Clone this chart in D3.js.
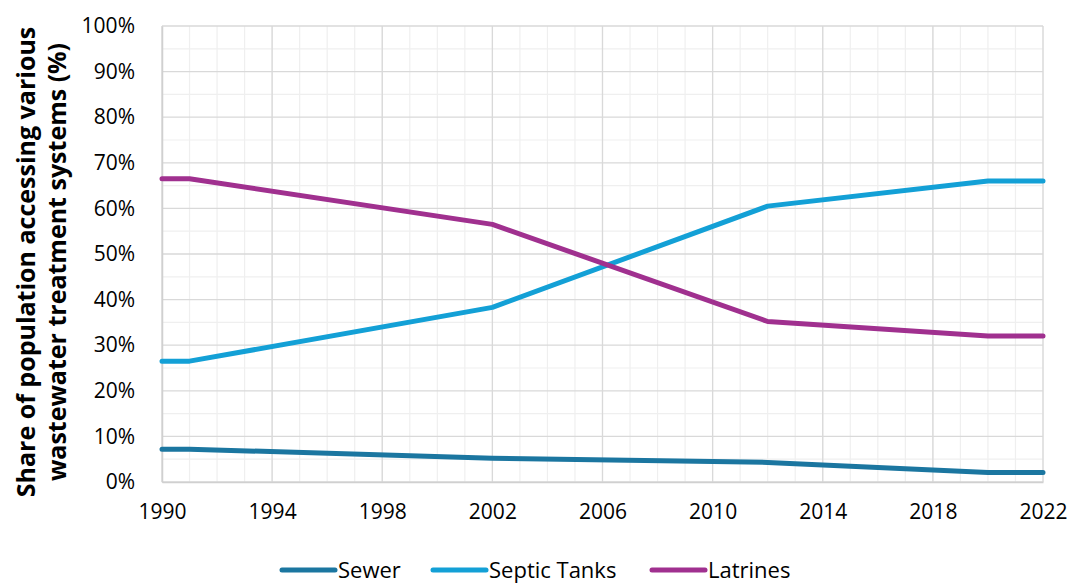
<!DOCTYPE html>
<html>
<head>
<meta charset="utf-8">
<script src="https://cdn.jsdelivr.net/npm/d3@7"></script>
<style>
  body { margin: 0; background: #fff; }
  text { font-family: "Open Sans", "Noto Sans", sans-serif; fill: #000; }
</style>
</head>
<body>
<svg id="chart" width="1071" height="583"></svg>
<script>
// Share of population by wastewater treatment system, 1990–2022
const years = [1990, 1991, 2002, 2012, 2020, 2022];
const sewer = [7.2, 7.2, 5.2, 4.3, 2.1, 2.1];
const septicTanks = [26.5, 26.5, 38.3, 60.5, 66.0, 66.0];
const latrines = [66.5, 66.5, 56.5, 35.2, 32.0, 32.0];

const seriesNames = ["Sewer", "Septic Tanks", "Latrines"];
const seriesColors = ["#1b76a0", "#13a0d6", "#a0308f"];
const xTicks = [1990, 1994, 1998, 2002, 2006, 2010, 2014, 2018, 2022];
const yTicks = [0, 10, 20, 30, 40, 50, 60, 70, 80, 90, 100];
const yTitleLines = ["Share of population accessing various", "wastewater treatment systems (%)"];

const svg = d3.select("#chart");
const margin = { left: 162, right: 28, top: 26, bottom: 101 };
const W = 1071, H = 583;

const x = d3.scaleLinear().domain([1990, 2022]).range([margin.left, W - margin.right]);
const y = d3.scaleLinear().domain([0, 100]).range([H - margin.bottom, margin.top]);

const grid = svg.append("g");
// minor grid: every year, every 5%
grid.selectAll("line.vminor").data(d3.range(1990, 2023))
  .join("line")
  .attr("x1", d => x(d)).attr("x2", d => x(d))
  .attr("y1", y(0)).attr("y2", y(100))
  .attr("stroke", "#efefef").attr("stroke-width", 1.2);
grid.selectAll("line.hminor").data(d3.range(5, 100, 10))
  .join("line")
  .attr("x1", x(1990)).attr("x2", x(2022))
  .attr("y1", d => y(d)).attr("y2", d => y(d))
  .attr("stroke", "#efefef").attr("stroke-width", 1.2);
// major grid
grid.selectAll("line.vmajor").data(xTicks)
  .join("line")
  .attr("x1", d => x(d)).attr("x2", d => x(d))
  .attr("y1", y(0)).attr("y2", y(100))
  .attr("stroke", "#d9d9d9").attr("stroke-width", 1.3);
grid.selectAll("line.hmajor").data(yTicks)
  .join("line")
  .attr("x1", x(1990)).attr("x2", x(2022))
  .attr("y1", d => y(d)).attr("y2", d => y(d))
  .attr("stroke", "#d9d9d9").attr("stroke-width", 1.3);

// axes
const xAxis = svg.append("g")
  .attr("transform", `translate(0,${y(0)})`)
  .call(d3.axisBottom(x).tickValues(xTicks).tickFormat(d3.format("d")).tickSize(0).tickPadding(22));
xAxis.select(".domain").attr("stroke", "#d0d0d0").attr("stroke-width", 1.5);
xAxis.selectAll("text").style("font-size", "21px").attr("fill", "#000");

const yAxis = svg.append("g")
  .attr("transform", `translate(${x(1990)},0)`)
  .call(d3.axisLeft(y).tickValues(yTicks).tickFormat(d => d + "%").tickSize(0).tickPadding(27));
yAxis.select(".domain").attr("stroke", "#d0d0d0").attr("stroke-width", 1.5);
yAxis.selectAll("text").style("font-size", "21px").attr("fill", "#000");

// y axis title (two lines, bold)
const yTitle = svg.append("text")
  .attr("transform", `translate(26,${(y(0) + y(100)) / 2 + 8}) rotate(-90)`)
  .attr("text-anchor", "middle")
  .style("font-size", "25px").style("font-weight", "700");
yTitle.selectAll("tspan").data(yTitleLines).join("tspan")
  .attr("x", 0).attr("dy", (d, i) => i === 0 ? "0.35em" : "31px")
  .text(d => d);

// series lines
const line = d3.line().x(d => x(d[0])).y(d => y(d[1]));
const seriesData = [sewer, septicTanks, latrines];
seriesData.forEach((vals, i) => {
  svg.append("path")
    .datum(years.map((yr, j) => [yr, vals[j]]))
    .attr("d", line)
    .attr("fill", "none")
    .attr("stroke", seriesColors[i])
    .attr("stroke-width", 5)
    .attr("stroke-linejoin", "round")
    .attr("stroke-linecap", "round");
});

// legend
const legendX = [282, 433, 652];
const legend = svg.append("g");
seriesNames.forEach((name, i) => {
  const g = legend.append("g").attr("transform", `translate(${legendX[i]},570)`);
  g.append("line").attr("x1", 0).attr("x2", 53).attr("y1", 0).attr("y2", 0)
    .attr("stroke", seriesColors[i]).attr("stroke-width", 5).attr("stroke-linecap", "round");
  g.append("text").attr("x", 56).attr("y", 8).style("font-size", "22px").text(name);
});
</script>
</body>
</html>
